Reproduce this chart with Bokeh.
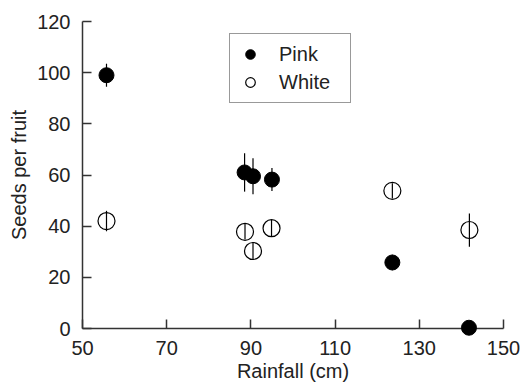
from bokeh.plotting import figure
from bokeh.models import Range1d, FixedTicker, Legend, LegendItem, ColumnDataSource
from bokeh.embed import file_html
from bokeh.resources import INLINE

# Data
x_ticks = [50, 70, 90, 110, 130, 150]
y_ticks = [0, 20, 40, 60, 80, 100, 120]

rain_pink = [55.7, 88.5, 90.5, 95.0, 123.6, 141.8]
seeds_pink = [99.0, 61.0, 59.5, 58.2, 25.8, 0.3]
err_pink = [4.5, 7.5, 7.0, 4.5, 3.0, 0.5]

rain_white = [55.7, 88.6, 90.5, 94.9, 123.6, 141.9]
seeds_white = [42.0, 37.8, 30.3, 39.2, 53.8, 38.5]
err_white = [4.0, 3.0, 3.5, 3.2, 3.0, 6.5]

FONT = "Liberation Sans"
AXC = "#333333"

p = figure(width=522, height=387, x_range=Range1d(50, 150), y_range=Range1d(0, 120),
           output_backend="svg", toolbar_location=None,
           min_border_left=82, min_border_right=19, min_border_top=21, min_border_bottom=59)
p.outline_line_color = None
p.xgrid.visible = False
p.ygrid.visible = False
p.background_fill_color = "white"
p.border_fill_color = "white"

for ax in (p.xaxis[0], p.yaxis[0]):
    ax.axis_line_color = AXC
    ax.axis_line_width = 1.5
    ax.major_tick_line_color = AXC
    ax.major_tick_line_width = 1.5
    ax.major_tick_in = 9
    ax.major_tick_out = 0
    ax.minor_tick_line_color = None
    ax.major_label_text_font = FONT
    ax.major_label_text_font_size = "20px"
    ax.major_label_text_color = "#222222"
    ax.axis_label_text_font = FONT
    ax.axis_label_text_font_size = "20px"
    ax.axis_label_text_font_style = "normal"
    ax.axis_label_text_color = "#222222"

p.xaxis.ticker = FixedTicker(ticks=x_ticks)
p.yaxis.ticker = FixedTicker(ticks=y_ticks)
p.xaxis.axis_label = "Rainfall (cm)"
p.yaxis.axis_label = "Seeds per fruit"
p.xaxis.major_label_standoff = 12
p.yaxis.major_label_standoff = 12
p.xaxis.axis_label_standoff = 2
p.yaxis.axis_label_standoff = 4

src_p = ColumnDataSource(dict(x=rain_pink, y=seeds_pink,
                              lo=[a - b for a, b in zip(seeds_pink, err_pink)],
                              hi=[a + b for a, b in zip(seeds_pink, err_pink)]))
src_w = ColumnDataSource(dict(x=rain_white, y=seeds_white,
                              lo=[a - b for a, b in zip(seeds_white, err_white)],
                              hi=[a + b for a, b in zip(seeds_white, err_white)]))

rw = p.scatter("x", "y", source=src_w, size=17, marker="circle",
               fill_color="white", line_color="black", line_width=1.2, level="overlay")
p.segment(x0="x", y0="lo", x1="x", y1="hi", source=src_w, line_color="black",
          line_width=1.2, level="overlay")
p.segment(x0="x", y0="lo", x1="x", y1="hi", source=src_p, line_color="black",
          line_width=1.2, level="overlay")
rp = p.scatter("x", "y", source=src_p, size=15, marker="circle",
               fill_color="black", line_color="black", level="overlay")

legend = Legend(items=[LegendItem(label="Pink", renderers=[rp]),
                       LegendItem(label="White", renderers=[rw])],
                location=(147, 225))
legend.label_text_font = FONT
legend.label_text_font_size = "20px"
legend.label_text_color = "#222222"
legend.border_line_color = AXC
legend.border_line_width = 1.3
legend.background_fill_alpha = 1
legend.padding = 8
legend.spacing = 4
legend.glyph_width = 24
legend.glyph_height = 24
legend.label_height = 24
legend.label_standoff = 17
legend.label_width = 63
legend.margin = 0
p.add_layout(legend, "center")

open("out.html", "w").write(file_html(p, INLINE))
